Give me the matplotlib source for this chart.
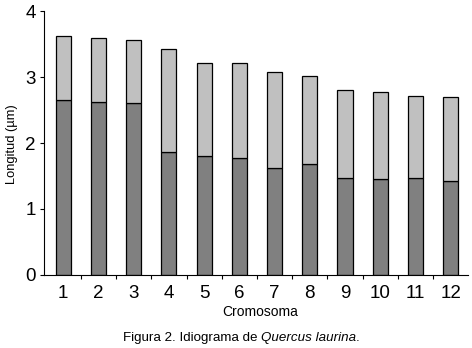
import matplotlib.pyplot as plt
import numpy as np

plt.rcParams['font.family'] = ['Liberation Sans', 'DejaVu Sans']

cromosomas = ['1', '2', '3', '4', '5', '6', '7', '8', '9', '10', '11', '12']
brazo_largo = [2.65, 2.62, 2.61, 1.87, 1.81, 1.77, 1.62, 1.68, 1.47, 1.45, 1.47, 1.43]
longitud_total = [3.63, 3.59, 3.56, 3.43, 3.21, 3.21, 3.08, 3.01, 2.80, 2.78, 2.72, 2.70]

brazo_corto = np.array(longitud_total) - np.array(brazo_largo)
x = np.arange(1, len(cromosomas) + 1)

fig = plt.figure(figsize=(4.72, 3.48), dpi=100)
ax = fig.add_axes([0.093, 0.21, 0.899, 0.758])

ax.bar(x, brazo_largo, width=0.43, color='#808080', edgecolor='black', linewidth=0.9)
ax.bar(x, brazo_corto, width=0.43, bottom=brazo_largo, color='#c0c0c0',
       edgecolor='black', linewidth=0.9)

ax.set_xlim(0.45, 12.5)
ax.set_ylim(0, 4)
ax.set_yticks([0, 1, 2, 3, 4])
ax.set_xticks(x)
ax.set_xticklabels(cromosomas)
ax.set_xticks(np.arange(1.5, 12.5, 1), minor=True)
ax.tick_params(axis='x', which='major', length=0, labelsize=13.5, pad=7)
ax.tick_params(axis='x', which='minor', length=3, width=0.8)
ax.tick_params(axis='y', length=3, width=0.8, labelsize=13.5, pad=3)

for s in ['top', 'right']:
    ax.spines[s].set_visible(False)
for s in ['left', 'bottom']:
    ax.spines[s].set_linewidth(0.8)

fig.text(0.026, 0.586, 'Longitud (µm)', rotation=90, ha='center', va='center', fontsize=9.3)
fig.text(0.551, 0.103, 'Cromosoma', ha='center', va='center', fontsize=10)

t1 = fig.text(0.26, 0.03, 'Figura 2. Idiograma de ', ha='left', va='center', fontsize=9.6)
t2 = fig.text(0, 0, 'Quercus laurina', fontsize=9.6, style='italic', ha='left', va='baseline',
              transform=None)
t2.set_position((0, 0))
fig.canvas.draw()
bb = t1.get_window_extent()
t2.remove()
t2 = fig.text(bb.x1 / fig.bbox.width, 0.03, 'Quercus laurina', ha='left', va='center',
              fontsize=9.6, style='italic')
fig.canvas.draw()
bb2 = t2.get_window_extent()
fig.text(bb2.x1 / fig.bbox.width, 0.03, '.', ha='left', va='center', fontsize=9.6)

fig.savefig('out.png', dpi=100)
